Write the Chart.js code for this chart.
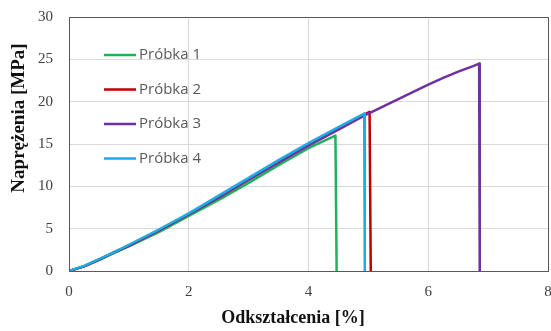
<!DOCTYPE html>
<html lang="pl">
<head>
<meta charset="UTF-8">
<title>Próbki - rozciąganie</title>
<script src="https://cdn.jsdelivr.net/npm/chart.js"></script>
<style>
  html, body { margin: 0; padding: 0; background: #fff; }
  #wrap { width: 551px; height: 331px; }
</style>
</head>
<body>
<div id="wrap"><canvas id="stressChart" width="551" height="331"></canvas></div>
<script>
// strain [%] and stress [MPa] for each specimen, last point = fracture drop
const sampleNames = ['Próbka 1', 'Próbka 2', 'Próbka 3', 'Próbka 4'];
const sampleColors = ['#1fb25a', '#c00000', '#7030a0', '#1cade4'];

const strain1 = [0, 0.25, 0.5, 0.75, 1, 1.5, 2, 2.5, 3, 3.5, 4, 4.25, 4.45, 4.47];
const stress1 = [0, 0.55, 1.3, 2.1, 2.9, 4.6, 6.5, 8.4, 10.4, 12.5, 14.5, 15.35, 16.0, 0];

const strain2 = [0, 0.25, 0.5, 0.75, 1, 1.5, 2, 2.5, 3, 3.5, 4, 4.5, 5.02, 5.04];
const stress2 = [0, 0.55, 1.35, 2.2, 3.0, 4.8, 6.7, 8.7, 10.8, 12.9, 14.9, 16.9, 18.8, 0];

const strain3 = [0, 0.25, 0.5, 0.75, 1, 1.5, 2, 2.5, 3, 3.5, 4, 4.5, 5, 5.5, 5.75, 6, 6.25, 6.5, 6.75, 6.85, 6.86];
const stress3 = [0, 0.55, 1.35, 2.2, 3.0, 4.8, 6.7, 8.7, 10.8, 12.8, 14.8, 16.7, 18.6, 20.3, 21.15, 22.0, 22.8, 23.55, 24.2, 24.5, 0];

const strain4 = [0, 0.25, 0.5, 0.75, 1, 1.5, 2, 2.5, 3, 3.5, 4, 4.5, 4.93, 4.94];
const stress4 = [0, 0.6, 1.4, 2.2, 3.1, 4.9, 6.8, 8.9, 11.0, 13.1, 15.1, 17.0, 18.6, 0];

const strains = [strain1, strain2, strain3, strain4];
const stresses = [stress1, stress2, stress3, stress4];
const drawOrder = [4, 3, 2, 1];

const xTitle = 'Odkształcenia [%]';
const yTitle = 'Naprężenia [MPa]';

const serif = '"Liberation Serif", "Times New Roman", serif';

function toPoints(xs, ys) {
  return xs.map((x, i) => ({ x: x, y: ys[i] }));
}

// frame around the plot area
const framePlugin = {
  id: 'frame',
  afterDraw(chart) {
    const a = chart.chartArea;
    const ctx = chart.ctx;
    ctx.save();
    ctx.strokeStyle = '#595959';
    ctx.lineWidth = 1;
    ctx.strokeRect(Math.round(a.left) + 0.5, Math.round(a.top) + 0.5,
      Math.round(a.right - a.left), Math.round(a.bottom - a.top));
    ctx.restore();
  }
};

// axis titles sit a bit off-centre, so they are placed by hand
const axisTitles = {
  id: 'axisTitles',
  afterDraw(chart) {
    const ctx = chart.ctx;
    ctx.save();
    ctx.fillStyle = '#111';
    ctx.textAlign = 'center';
    ctx.textBaseline = 'middle';
    ctx.font = 'bold 18px ' + serif;
    ctx.fillText(xTitle, 293, 318);
    ctx.translate(19, 118);
    ctx.rotate(-Math.PI / 2);
    ctx.font = 'bold 19px ' + serif;
    ctx.fillText(yTitle, 0, 0);
    ctx.restore();
  }
};

// legend drawn inside the plot, one entry per row
const innerLegend = {
  id: 'innerLegend',
  afterDraw(chart) {
    const ctx = chart.ctx;
    ctx.save();
    ctx.font = '15px "Open Sans", "Noto Sans", sans-serif';
    ctx.textBaseline = 'middle';
    chart.data.datasets.forEach((ds, i) => {
      const y = 55 + i * 34.5;
      ctx.strokeStyle = ds.borderColor;
      ctx.lineWidth = 2.5;
      ctx.beginPath();
      ctx.moveTo(104, y);
      ctx.lineTo(136, y);
      ctx.stroke();
      ctx.fillStyle = '#595959';
      ctx.fillText(ds.label, 139, y);
    });
    ctx.restore();
  }
};

const ctx = document.getElementById('stressChart').getContext('2d');
const stressChart = new Chart(ctx, {
  type: 'scatter',
  data: {
    datasets: sampleNames.map((name, i) => ({
      label: name,
      data: toPoints(strains[i], stresses[i]),
      showLine: true,
      borderColor: sampleColors[i],
      backgroundColor: sampleColors[i],
      borderWidth: 2.5,
      borderJoinStyle: 'round',
      pointRadius: 0,
      tension: 0,
      order: drawOrder[i]
    }))
  },
  options: {
    responsive: false,
    animation: false,
    layout: { padding: { left: 0, top: 17, right: 3, bottom: 0 } },
    plugins: {
      legend: { display: false },
      tooltip: { enabled: false }
    },
    scales: {
      x: {
        type: 'linear',
        min: 0,
        max: 8,
        ticks: { stepSize: 2, color: '#404040', font: { family: serif, size: 15 }, padding: 12 },
        grid: { color: '#d9d9d9', drawTicks: false },
        border: { display: false },
        afterFit(scale) {
          scale.height = 60;
          scale.paddingLeft = 0;
          scale.paddingRight = 0;
        }
      },
      y: {
        min: 0,
        max: 30,
        ticks: { stepSize: 5, color: '#404040', font: { family: serif, size: 15 }, padding: 16 },
        grid: { color: '#d9d9d9', drawTicks: false },
        border: { display: false },
        afterFit(scale) {
          scale.width = 69;
          scale.paddingTop = 0;
          scale.paddingBottom = 0;
        }
      }
    }
  },
  plugins: [framePlugin, axisTitles, innerLegend]
});
</script>
</body>
</html>
